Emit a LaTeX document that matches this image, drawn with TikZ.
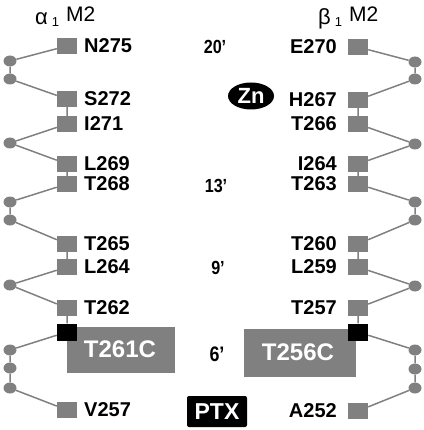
\documentclass[tikz,border=0pt]{standalone}
\usepackage{fontspec}
\usetikzlibrary{shapes.geometric}
\setmainfont{Liberation Sans}
\definecolor{mg}{RGB}{128,128,128}
\tikzset{
  sq/.style={fill=mg, draw=none, minimum width=20pt, minimum height=16pt, inner sep=0pt},
  bsq/.style={fill=black, draw=none, minimum width=20pt, minimum height=17pt, inner sep=0pt},
  dot/.style={ellipse, fill=mg, draw=none, minimum width=13pt, minimum height=11pt, inner sep=0pt},
  lnk/.style={draw=mg, line width=1.5pt},
  lab/.style={font=\bfseries\fontsize{20}{22}\selectfont, inner sep=0pt},
  posnum/.style={font=\bfseries\fontsize{19}{20}\selectfont, inner sep=0pt},
  bigbox/.style={fill=mg, draw=none, inner sep=0pt},
  boxtext/.style={inner sep=0pt, text=white, font=\bfseries\fontsize{24}{26}\selectfont},
  ttl/.style={inner sep=0pt, anchor=base west}
}
\begin{document}
\begin{tikzpicture}[x=1pt,y=-1pt]
\useasboundingbox (0,0) rectangle (423,430);
% titles
\node[ttl] (ta) at (35,22) {\raisebox{-3pt}{\fontsize{22}{22}\selectfont α}\hspace{4pt}\raisebox{-5pt}{\fontsize{13}{13}\selectfont 1}\hspace{7pt}{\fontsize{21}{21}\selectfont M2}};
\node[ttl] (tb) at (318,22) {\raisebox{-3pt}{\fontsize{22}{22}\selectfont β}\hspace{4pt}\raisebox{-5pt}{\fontsize{13}{13}\selectfont 1}\hspace{7pt}{\fontsize{21}{21}\selectfont M2}};
% gray boxes (behind squares)
\node[bigbox, minimum width=108pt, minimum height=46pt] (box1) at (121,350) {};
\node[bigbox, minimum width=112pt, minimum height=48pt] (box2) at (300,353) {};
% left chain
\node[sq] (ls1) at (67,46) {};
\node[dot] (lc1) at (10,61) {};
\node[dot] (lc2) at (10,79) {};
\node[sq] (ls2) at (67,99) {};
\node[sq] (ls3) at (67,124) {};
\node[dot] (lc3) at (10,143) {};
\node[sq] (ls4) at (67,164) {};
\node[sq] (ls5) at (67,184) {};
\node[dot] (lc4) at (10,202) {};
\node[dot] (lc5) at (10,220) {};
\node[sq] (ls6) at (67,244) {};
\node[sq] (ls7) at (67,267) {};
\node[dot] (lc6) at (10,285) {};
\node[sq] (ls8) at (67,308) {};
\node[bsq] (lb) at (67,332) {};
\node[dot] (lc7) at (10,350) {};
\node[dot] (lc8) at (10,368) {};
\node[dot] (lc9) at (10,388) {};
\node[sq] (ls9) at (67,410) {};
% right chain
\node[sq] (rs1) at (358,47) {};
\node[dot] (rc1) at (415,62) {};
\node[dot] (rc2) at (415,79) {};
\node[sq] (rs2) at (358,100) {};
\node[sq] (rs3) at (358,124) {};
\node[dot] (rc3) at (415,144) {};
\node[sq] (rs4) at (358,164) {};
\node[sq] (rs5) at (358,184) {};
\node[dot] (rc4) at (415,202) {};
\node[dot] (rc5) at (415,220) {};
\node[sq] (rs6) at (358,244) {};
\node[sq] (rs7) at (358,267) {};
\node[dot] (rc6) at (415,286) {};
\node[sq] (rs8) at (358,308) {};
\node[bsq] (rb) at (358,332) {};
\node[dot] (rc7) at (415,350) {};
\node[dot] (rc8) at (415,369) {};
\node[dot] (rc9) at (415,388) {};
\node[sq] (rs9) at (358,411) {};
% links
\draw[lnk] (ls1) -- (lc1) -- (lc2) -- (ls2) -- (ls3) -- (lc3) -- (ls4) -- (ls5) -- (lc4) -- (lc5) -- (ls6) -- (ls7) -- (lc6) -- (ls8) -- (lb) -- (lc7) -- (lc8) -- (lc9) -- (ls9);
\draw[lnk] (rs1) -- (rc1) -- (rc2) -- (rs2) -- (rs3) -- (rc3) -- (rs4) -- (rs5) -- (rc4) -- (rc5) -- (rs6) -- (rs7) -- (rc6) -- (rs8) -- (rb) -- (rc7) -- (rc8) -- (rc9) -- (rs9);
% box texts
\node[boxtext] (t1) at (120,349) {T261C};
\node[boxtext] (t2) at (298,352) {T256C};
% left labels
\node[lab, anchor=west] (ln1) at (84,46) {N275};
\node[lab, anchor=west] (ln2) at (84,99) {S272};
\node[lab, anchor=west] (ln3) at (84,124) {I271};
\node[lab, anchor=west] (ln4) at (84,164) {L269};
\node[lab, anchor=west] (ln5) at (84,184) {T268};
\node[lab, anchor=west] (ln6) at (84,244) {T265};
\node[lab, anchor=west] (ln7) at (84,267) {L264};
\node[lab, anchor=west] (ln8) at (84,308) {T262};
\node[lab, anchor=west] (ln9) at (84,410) {V257};
% right labels
\node[lab, anchor=east] (rn1) at (337,47) {E270};
\node[lab, anchor=east] (rn2) at (337,100) {H267};
\node[lab, anchor=east] (rn3) at (337,124) {T266};
\node[lab, anchor=east] (rn4) at (337,164) {I264};
\node[lab, anchor=east] (rn5) at (337,184) {T263};
\node[lab, anchor=east] (rn6) at (337,244) {T260};
\node[lab, anchor=east] (rn7) at (337,267) {L259};
\node[lab, anchor=east] (rn8) at (337,308) {T257};
\node[lab, anchor=east] (rn9) at (337,411) {A252};
% positions
\node[posnum] (p20) at (215,47) {\scalebox{0.85}[1]{20’}};
\node[posnum] (p13) at (216,186) {\scalebox{0.85}[1]{13’}};
\node[posnum] (p9) at (218,268) {\scalebox{0.85}[1]{9’}};
\node[posnum, font=\bfseries\fontsize{21}{22}\selectfont] (p6) at (217,354) {\scalebox{0.85}[1]{6’}};
% Zn and PTX
\node[ellipse, fill=black, minimum width=46pt, minimum height=27pt, inner sep=0pt, text=white, font=\bfseries\fontsize{22}{22}\selectfont] (zn) at (251,96) {Zn};
\node[rectangle, rounded corners=2pt, fill=black, minimum width=60pt, minimum height=31pt, inner sep=0pt, text=white, font=\bfseries\fontsize{23}{24}\selectfont] (ptx) at (217,411.5) {PTX};
\end{tikzpicture}
\end{document}
